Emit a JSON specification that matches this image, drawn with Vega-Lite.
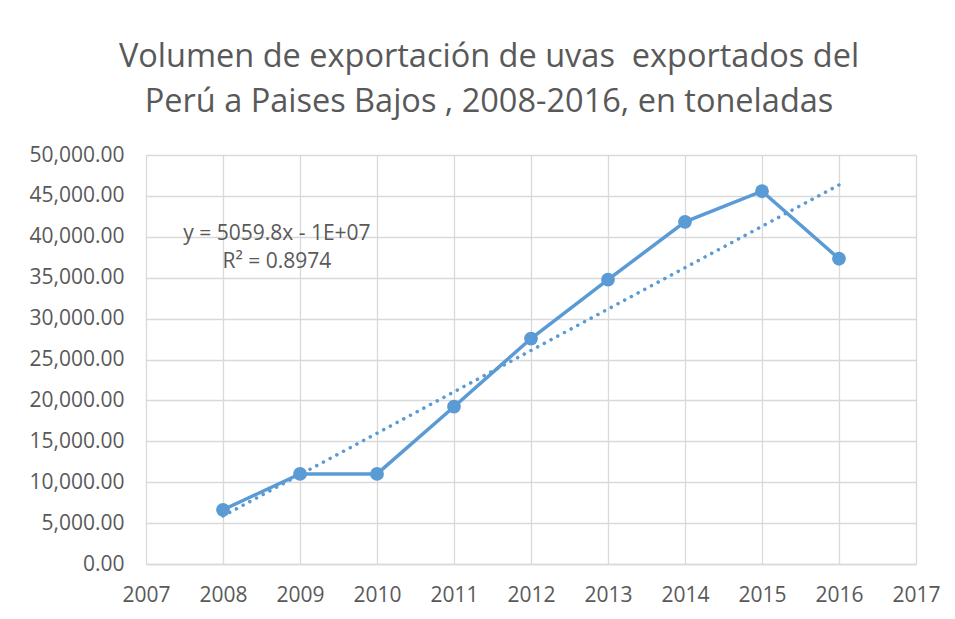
{
  "$schema": "https://vega.github.io/schema/vega-lite/v6.json",
  "autosize": "none",
  "width": 770,
  "height": 409,
  "padding": {"left": 146, "top": 155, "right": 39, "bottom": 55},
  "background": "white",
  "config": {
    "font": "Open Sans",
    "view": {"stroke": null},
    "axis": {"labelColor": "#595959", "labelFontSize": 21, "gridColor": "#D9D9D9", "gridWidth": 1.3, "ticks": false, "domain": false}
  },
  "title": {
    "text": ["Volumen de exportación de uvas\u00a0 exportados del", "Perú a Paises Bajos , 2008-2016, en toneladas"],
    "anchor": "middle",
    "frame": "group",
    "dx": -42,
    "offset": 26,
    "fontSize": 32.5,
    "fontWeight": "normal",
    "color": "#595959",
    "lineHeight": 45,
    "font": "Open Sans"
  },
  "data": {
    "values": [
      {"year": 2008, "tons": 6626},
      {"year": 2009, "tons": 11016},
      {"year": 2010, "tons": 11016},
      {"year": 2011, "tons": 19228},
      {"year": 2012, "tons": 27561},
      {"year": 2013, "tons": 34756},
      {"year": 2014, "tons": 41829},
      {"year": 2015, "tons": 45569},
      {"year": 2016, "tons": 37317}
    ]
  },
  "encoding": {
    "x": {"field": "year", "type": "quantitative", "scale": {"domain": [2007, 2017], "nice": false, "zero": false},
          "axis": {"title": null, "format": "d", "labelFlush": false, "values": [2007, 2008, 2009, 2010, 2011, 2012, 2013, 2014, 2015, 2016, 2017], "labelPadding": 20, "domain": true, "domainColor": "#D9D9D9", "domainWidth": 1.5}},
    "y": {"field": "tons", "type": "quantitative", "scale": {"domain": [0, 50000], "nice": false},
          "axis": {"title": null, "format": ",.2f", "values": [0, 5000, 10000, 15000, 20000, 25000, 30000, 35000, 40000, 45000, 50000], "labelPadding": 22}}
  },
  "layer": [
    {
      "transform": [{"regression": "tons", "on": "year", "extent": [2008, 2016]}],
      "mark": {"type": "line", "color": "#5B9BD5", "strokeWidth": 3.5, "strokeDash": [0.1, 7.5], "strokeCap": "round"}
    },
    {
      "mark": {"type": "line", "color": "#5B9BD5", "strokeWidth": 3.5}
    },
    {
      "mark": {"type": "point", "filled": true, "opacity": 1, "color": "#5B9BD5", "size": 190}
    },
    {
      "transform": [{"filter": "datum.year == 2008"}],
      "mark": {"type": "text", "fontSize": 21, "color": "#595959", "align": "center", "baseline": "middle"},
      "encoding": {
        "x": {"datum": 2008.7, "type": "quantitative"},
        "y": {"datum": 40400, "type": "quantitative"},
        "text": {"value": "y = 5059.8x - 1E+07"}
      }
    },
    {
      "transform": [{"filter": "datum.year == 2008"}],
      "mark": {"type": "text", "fontSize": 21, "color": "#595959", "align": "center", "baseline": "middle"},
      "encoding": {
        "x": {"datum": 2008.7, "type": "quantitative"},
        "y": {"datum": 36870, "type": "quantitative"},
        "text": {"value": "R² = 0.8974"}
      }
    }
  ]
}
